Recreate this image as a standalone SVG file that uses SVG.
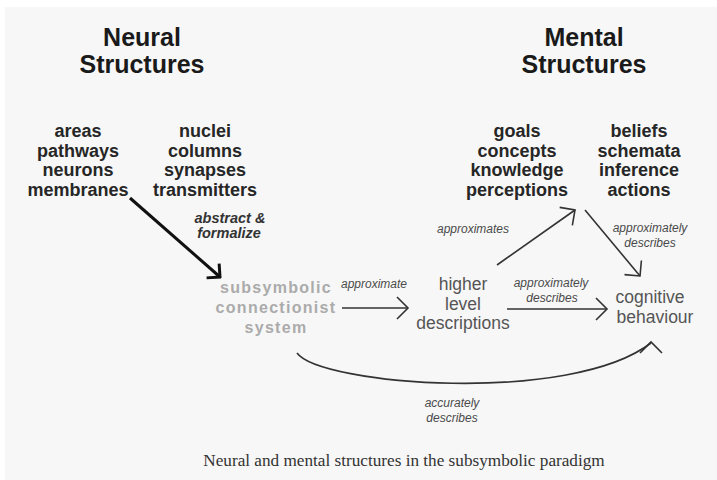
<svg xmlns="http://www.w3.org/2000/svg" width="717" height="480" viewBox="0 0 717 480">
<style>
.head{font-family:"Liberation Sans",Arial,sans-serif;font-weight:bold;font-size:25px;fill:#1a1a1a;text-anchor:middle}
.item{font-family:"Liberation Sans",Arial,sans-serif;font-weight:bold;font-size:18px;fill:#262626;text-anchor:middle}
.sub{font-family:"Liberation Sans",Arial,sans-serif;font-weight:bold;font-size:16px;letter-spacing:1.3px;fill:#ababab;text-anchor:middle}
.reg{font-family:"Liberation Sans",Arial,sans-serif;font-size:17.5px;fill:#555;text-anchor:middle}
.lbl{font-family:"Liberation Sans",Arial,sans-serif;font-style:italic;font-size:12px;fill:#4a4a4a;text-anchor:middle}
.bi{font-family:"Liberation Sans",Arial,sans-serif;font-style:italic;font-weight:bold;font-size:14.5px;fill:#333;text-anchor:middle}
.cap{font-family:"Liberation Serif","Times New Roman",serif;font-size:17.2px;fill:#333;text-anchor:middle}
.ln{fill:none;stroke:#333;stroke-width:1.6}
</style>
<defs>
<marker id="v" viewBox="-13 -13 15 26" refX="0" refY="0" markerWidth="15" markerHeight="26" markerUnits="userSpaceOnUse" orient="auto">
<path d="M-11,-11 L0,0 L-11,11" fill="none" stroke="#333" stroke-width="1.6"/>
</marker>
<marker id="vt" viewBox="-13 -13 15 26" refX="0" refY="0" markerWidth="15" markerHeight="26" markerUnits="userSpaceOnUse" orient="auto">
<path d="M-9.5,-9.5 L0,0 L-9.5,9.5" fill="none" stroke="#111" stroke-width="3"/>
</marker>
</defs>
<rect x="0" y="0" width="717" height="480" fill="#fff"/>
<rect x="5" y="7" width="712" height="473" fill="#f7f7f7"/>

<g id="heading-neural">
<text class="head" x="142" y="46">Neural</text>
<text class="head" x="142" y="73">Structures</text>
</g>
<g id="heading-mental">
<text class="head" x="584" y="46">Mental</text>
<text class="head" x="584" y="73">Structures</text>
</g>

<g id="neural-1">
<text class="item" x="78" y="137">areas</text>
<text class="item" x="78" y="156.5">pathways</text>
<text class="item" x="78" y="176">neurons</text>
<text class="item" x="78" y="195.5">membranes</text>
</g>
<g id="neural-2">
<text class="item" x="205" y="137">nuclei</text>
<text class="item" x="205" y="156.5">columns</text>
<text class="item" x="205" y="176">synapses</text>
<text class="item" x="205" y="195.5">transmitters</text>
</g>
<g id="mental-1">
<text class="item" x="517" y="137">goals</text>
<text class="item" x="517" y="156.5">concepts</text>
<text class="item" x="517" y="176">knowledge</text>
<text class="item" x="517" y="195.5">perceptions</text>
</g>
<g id="mental-2">
<text class="item" x="639" y="137">beliefs</text>
<text class="item" x="639" y="156.5">schemata</text>
<text class="item" x="639" y="176">inference</text>
<text class="item" x="639" y="195.5">actions</text>
</g>

<g id="subsymbolic">
<text class="sub" x="276" y="293">subsymbolic</text>
<text class="sub" x="276" y="313">connectionist</text>
<text class="sub" x="276" y="333">system</text>
</g>
<g id="higher-level">
<text class="reg" x="463" y="290">higher</text>
<text class="reg" x="463" y="310">level</text>
<text class="reg" x="463" y="329">descriptions</text>
</g>
<g id="cognitive">
<text class="reg" x="650" y="303" fill="#444">cognitive</text>
<text class="reg" x="655" y="323" fill="#444">behaviour</text>
</g>

<g id="connectors">
<line x1="130" y1="198" x2="220" y2="277" stroke="#111" stroke-width="3" marker-end="url(#vt)"/>
<text class="bi" x="230" y="223">abstract &amp;</text>
<text class="bi" x="229" y="238">formalize</text>

<line class="ln" x1="342" y1="308" x2="408" y2="308" marker-end="url(#v)"/>
<text class="lbl" x="374" y="288">approximate</text>

<line class="ln" x1="507" y1="309" x2="607" y2="309" marker-end="url(#v)"/>
<text class="lbl" x="551" y="287">approximately</text>
<text class="lbl" x="552" y="302">describes</text>

<line class="ln" x1="497" y1="265" x2="575" y2="210" marker-end="url(#v)"/>
<text class="lbl" x="473" y="233">approximates</text>

<line class="ln" x1="585" y1="210" x2="640" y2="276" marker-end="url(#v)"/>
<text class="lbl" x="650" y="232">approximately</text>
<text class="lbl" x="650" y="247">describes</text>

<path class="ln" d="M297,353 C320,385 570,405 651,343"/>
<path class="ln" d="M640,353 L651,342 L662,353"/>
<text class="lbl" x="452" y="407">accurately</text>
<text class="lbl" x="452" y="422">describes</text>
</g>

<text class="cap" x="404" y="466">Neural and mental structures in the subsymbolic paradigm</text>
</svg>
